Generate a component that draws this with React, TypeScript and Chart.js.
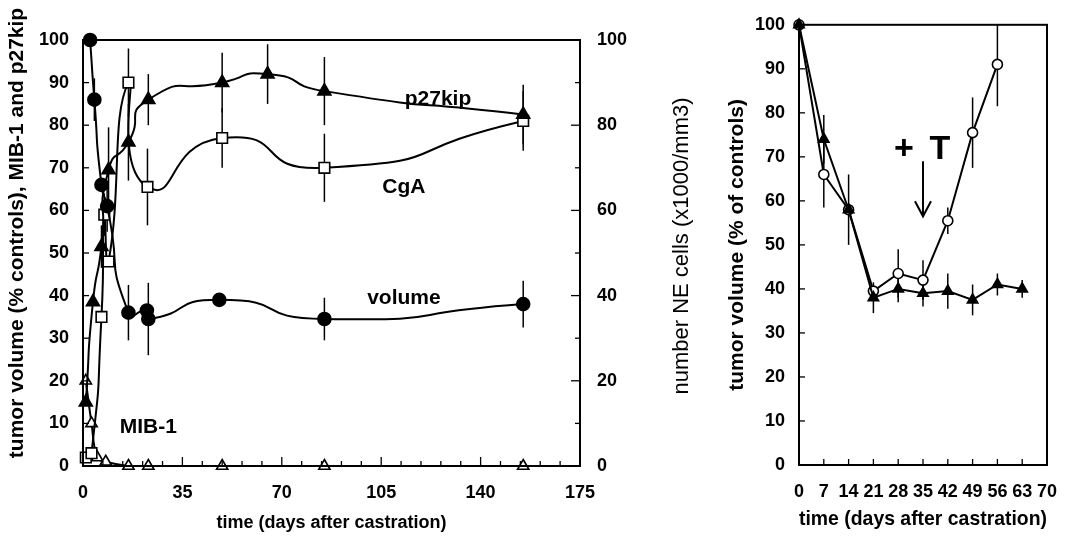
import React, { useEffect, useRef } from "react";
import { Chart, registerables } from "chart.js";

Chart.register(...registerables);

const FONT = "'Liberation Sans', Arial, Helvetica, sans-serif";

// ---------- Left panel data (days after castration) ----------
const volumeDays = [2.5, 4, 6.5, 8.5, 16, 22.5, 23, 48, 85, 155];
const volumeVals = [100, 86, 66, 61, 36, 36.5, 34.5, 39, 34.5, 38];
const volumeErr = [0, 5, 0, 6, 6.5, 0, 8.5, 0, 5, 5.5];

const p27Days = [1, 3.5, 6.5, 9, 16, 23, 49, 65, 85, 155];
const p27Vals = [15, 38.5, 51.5, 69.5, 76, 86, 90, 92, 88, 82.5];
const p27Err = [0, 0, 5, 10, 9, 6, 7, 7, 8, 7];

const cgaDays = [1, 3, 6.5, 7.5, 9, 16, 22.7, 49, 85, 155];
const cgaVals = [2, 3, 35, 59, 48, 90, 65.5, 77, 70, 81];
const cgaErr = [0, 0, 0, 5, 0, 8, 9, 7, 8, 7];

const mibDays = [1, 3, 5, 8, 16, 23, 49, 85, 155];
const mibVals = [20, 10, 2, 1, 0, 0, 0, 0, 0];

const leftXTicks = { min: 0, max: 175, step: 35, minorStep: 7 };
const leftYTicks = { min: 0, max: 100, step: 10 };
const leftY2Ticks = { min: 0, max: 100, step: 20, minorStep: 10 };

// ---------- Right panel data ----------
const castDays = [0, 7, 14, 21, 28, 35, 42, 49, 56, 63];
const castVals = [100, 74, 58, 38, 40, 39, 39.5, 37.5, 41, 40];
const castErr = [0, 5.5, 8, 3.5, 3, 3, 4, 3.5, 2.5, 2];

const tDays = [0, 7, 14, 21, 28, 35, 42, 49, 56];
const tVals = [100, 66, 58, 39.5, 43.5, 42, 55.5, 75.5, 91];
const tErr = [0, 7.5, 0, 0, 5.5, 4.5, 3, 8, 9.5];

const rightXTicks = { min: 0, max: 70, step: 7 };
const rightYTicks = { min: 0, max: 100, step: 10 };

const toPts = (xs: number[], ys: number[]) => xs.map((x, i) => ({ x, y: ys[i] }));

// ---------- plugins ----------
const errorBarPlugin = {
  id: "errorBars",
  beforeDatasetsDraw(chart: any) {
    const ctx = chart.ctx;
    ctx.save();
    ctx.strokeStyle = "#000";
    ctx.lineWidth = 1.5;
    chart.data.datasets.forEach((ds: any, i: number) => {
      const errs = ds.errors;
      if (!errs) return;
      const meta = chart.getDatasetMeta(i);
      const xs = chart.scales[meta.xAxisID];
      const ys = chart.scales[meta.yAxisID];
      ds.data.forEach((p: any, j: number) => {
        const e = errs[j];
        if (!e) return;
        const x = xs.getPixelForValue(p.x);
        const yTop = ys.getPixelForValue(Math.min(ys.max, p.y + e));
        const yBot = ys.getPixelForValue(Math.max(ys.min, p.y - e));
        ctx.beginPath();
        ctx.moveTo(x, yTop);
        ctx.lineTo(x, yBot);
        ctx.stroke();
      });
    });
    ctx.restore();
  },
};

function makeFramePlugin(tickSpec: (chart: any, ctx: CanvasRenderingContext2D) => void) {
  return {
    id: "frame",
    afterDraw(chart: any) {
      const { ctx, chartArea } = chart;
      ctx.save();
      ctx.strokeStyle = "#000";
      ctx.lineWidth = 2;
      ctx.strokeRect(chartArea.left, chartArea.top, chartArea.right - chartArea.left, chartArea.bottom - chartArea.top);
      ctx.lineWidth = 1.3;
      tickSpec(chart, ctx);
      ctx.restore();
    },
  };
}

function vTick(ctx: CanvasRenderingContext2D, x: number, y: number, len: number) {
  ctx.beginPath();
  ctx.moveTo(x, y);
  ctx.lineTo(x, y - len);
  ctx.stroke();
}
function hTick(ctx: CanvasRenderingContext2D, x: number, y: number, len: number) {
  ctx.beginPath();
  ctx.moveTo(x, y);
  ctx.lineTo(x + len, y);
  ctx.stroke();
}

type VTitle = { text: string; cx: number; cy: number; size: number; weight: string };

function makeTextPlugin(
  items: { text: string; x: number; y: number; size: number }[],
  vTitles: VTitle[],
  arrow?: { x: number; y1: number; y2: number; hw: number; hh: number }
) {
  return {
    id: "annot",
    afterDatasetsDraw(chart: any) {
      const { ctx } = chart;
      const xs = chart.scales.x;
      const ys = chart.scales.y;
      ctx.save();
      ctx.fillStyle = "#000";
      ctx.textAlign = "center";
      ctx.textBaseline = "middle";
      items.forEach((it) => {
        ctx.font = `bold ${it.size}px ${FONT}`;
        ctx.fillText(it.text, xs.getPixelForValue(it.x), ys.getPixelForValue(it.y));
      });
      if (arrow) {
        const x = xs.getPixelForValue(arrow.x);
        const y1 = ys.getPixelForValue(arrow.y1);
        const y2 = ys.getPixelForValue(arrow.y2);
        ctx.strokeStyle = "#000";
        ctx.lineWidth = 2;
        ctx.beginPath();
        ctx.moveTo(x, y1);
        ctx.lineTo(x, y2);
        ctx.moveTo(x - arrow.hw, y2 - arrow.hh);
        ctx.lineTo(x, y2);
        ctx.lineTo(x + arrow.hw, y2 - arrow.hh);
        ctx.stroke();
      }
      ctx.restore();
    },
    afterDraw(chart: any) {
      const { ctx } = chart;
      vTitles.forEach((t) => {
        ctx.save();
        ctx.fillStyle = "#000";
        ctx.textAlign = "center";
        ctx.textBaseline = "middle";
        ctx.font = `${t.weight} ${t.size}px ${FONT}`;
        ctx.translate(t.cx, t.cy);
        ctx.rotate(-Math.PI / 2);
        ctx.fillText(t.text, 0, 0);
        ctx.restore();
      });
    },
  };
}

const tickFont = { family: FONT, size: 18, weight: "bold" as const };

export default function App() {
  const leftRef = useRef<HTMLCanvasElement>(null);
  const rightRef = useRef<HTMLCanvasElement>(null);

  useEffect(() => {
    const lineBase = {
      borderColor: "#000",
      borderWidth: 2,
      pointBorderColor: "#000",
      pointBorderWidth: 1.6,
      clip: false as const,
    };
    const leftTension = 0.7;

    const left = new Chart(leftRef.current!, {
      type: "line",
      data: {
        datasets: [
          {
            ...lineBase,
            label: "volume",
            data: toPts(volumeDays, volumeVals),
            errors: volumeErr,
            tension: leftTension,
            pointStyle: "circle",
            pointRadius: 6.5,
            pointBackgroundColor: "#000",
          } as any,
          {
            ...lineBase,
            label: "p27kip",
            data: toPts(p27Days, p27Vals),
            errors: p27Err,
            tension: leftTension,
            pointStyle: "triangle",
            pointRadius: 7.5,
            pointBackgroundColor: "#000",
          } as any,
          {
            ...lineBase,
            label: "CgA",
            data: toPts(cgaDays, cgaVals),
            errors: cgaErr,
            tension: leftTension,
            pointStyle: "rect",
            pointRadius: 7.5,
            pointBackgroundColor: "#fff",
          } as any,
          {
            ...lineBase,
            label: "MIB-1",
            data: toPts(mibDays, mibVals),
            tension: 0.4,
            pointStyle: "triangle",
            pointRadius: 6.5,
            pointBackgroundColor: "#fff",
          } as any,
        ],
      },
      options: {
        animation: false,
        responsive: false,
        layout: { padding: { top: 40, left: 0, right: 0, bottom: 0 } },
        plugins: { legend: { display: false }, tooltip: { enabled: false } },
        scales: {
          x: {
            type: "linear",
            min: leftXTicks.min,
            max: leftXTicks.max,
            grid: { display: false, drawTicks: false },
            border: { display: false },
            ticks: { stepSize: leftXTicks.step, color: "#000", font: tickFont, padding: 16, maxRotation: 0 },
            title: {
              display: true,
              text: "time (days after castration)",
              color: "#000",
              font: { family: FONT, size: 18, weight: "bold", lineHeight: 1 },
              padding: { top: 0, bottom: 8 },
            },
            afterFit: (s: any) => {
              s.height = 74;
            },
          },
          y: {
            type: "linear",
            position: "left",
            min: leftYTicks.min,
            max: leftYTicks.max,
            grid: { display: false, drawTicks: false },
            border: { display: false },
            ticks: { stepSize: leftYTicks.step, color: "#000", font: tickFont, padding: 14 },
            afterFit: (s: any) => {
              s.width = 83;
            },
          },
          y2: {
            type: "linear",
            position: "right",
            min: leftY2Ticks.min,
            max: leftY2Ticks.max,
            grid: { display: false, drawTicks: false },
            border: { display: false },
            ticks: { stepSize: leftY2Ticks.step, color: "#000", font: tickFont, padding: 17 },
            afterFit: (s: any) => {
              s.width = 125;
            },
          },
        },
      } as any,
      plugins: [
        errorBarPlugin,
        makeFramePlugin((chart, ctx) => {
          const { x, y, y2 } = chart.scales;
          const ca = chart.chartArea;
          for (let v = leftXTicks.min; v <= leftXTicks.max; v += leftXTicks.minorStep) {
            vTick(ctx, x.getPixelForValue(v), ca.bottom, v % leftXTicks.step === 0 ? 9 : 5);
          }
          for (let v = leftYTicks.min; v <= leftYTicks.max; v += leftYTicks.step) {
            hTick(ctx, ca.left, y.getPixelForValue(v), 6);
          }
          for (let v = leftY2Ticks.min; v <= leftY2Ticks.max; v += leftY2Ticks.minorStep) {
            hTick(ctx, ca.right, y2.getPixelForValue(v), v % leftY2Ticks.step === 0 ? -9 : -5);
          }
        }),
        makeTextPlugin(
          [
            { text: "p27kip", x: 125, y: 86, size: 21 },
            { text: "CgA", x: 113, y: 65.5, size: 21 },
            { text: "volume", x: 113, y: 39.5, size: 21 },
            { text: "MIB-1", x: 23, y: 9, size: 21 },
          ],
          [
            { text: "tumor volume (% controls), MIB-1 and p27kip", cx: 17, cy: 233, size: 21, weight: "bold" },
            { text: "number NE cells (x1000/mm3)", cx: 682, cy: 246, size: 22, weight: "normal" },
          ]
        ),
      ],
    });

    const right = new Chart(rightRef.current!, {
      type: "line",
      data: {
        datasets: [
          {
            ...lineBase,
            label: "castrated",
            data: toPts(castDays, castVals),
            errors: castErr,
            tension: 0,
            pointStyle: "triangle",
            pointRadius: 6,
            pointBackgroundColor: "#000",
          } as any,
          {
            ...lineBase,
            label: "+T",
            data: toPts(tDays, tVals),
            errors: tErr,
            tension: 0,
            pointStyle: "circle",
            pointRadius: 5,
            pointBackgroundColor: "#fff",
          } as any,
        ],
      },
      options: {
        animation: false,
        responsive: false,
        layout: { padding: { top: 23, left: 0, right: 41, bottom: 0 } },
        plugins: { legend: { display: false }, tooltip: { enabled: false } },
        scales: {
          x: {
            type: "linear",
            min: rightXTicks.min,
            max: rightXTicks.max,
            grid: { display: false, drawTicks: false },
            border: { display: false },
            ticks: { stepSize: rightXTicks.step, color: "#000", font: tickFont, padding: 16, maxRotation: 0, autoSkip: false },
            title: {
              display: true,
              text: "time (days after castration)",
              color: "#000",
              font: { family: FONT, size: 21, weight: "bold", lineHeight: 1 },
              padding: { top: 0, bottom: 10 },
            },
            afterFit: (s: any) => {
              s.height = 75;
            },
          },
          y: {
            type: "linear",
            position: "left",
            min: rightYTicks.min,
            max: rightYTicks.max,
            grid: { display: false, drawTicks: false },
            border: { display: false },
            ticks: { stepSize: rightYTicks.step, color: "#000", font: tickFont, padding: 14 },
            title: {
              display: true,
              text: "tumor volume (% of controls)",
              color: "#000",
              font: { family: FONT, size: 21, weight: "bold", lineHeight: 1 },
              padding: { top: 22, bottom: 0 },
            },
            afterFit: (s: any) => {
              s.width = 94;
            },
          },
        },
      } as any,
      plugins: [
        errorBarPlugin,
        makeFramePlugin((chart, ctx) => {
          const { x, y } = chart.scales;
          const ca = chart.chartArea;
          for (let v = rightXTicks.min; v <= rightXTicks.max; v += rightXTicks.step) {
            vTick(ctx, x.getPixelForValue(v), ca.bottom, 6);
          }
          for (let v = rightYTicks.min; v <= rightYTicks.max; v += rightYTicks.step) {
            hTick(ctx, ca.left, y.getPixelForValue(v), 6);
          }
        }),
        makeTextPlugin(
          [
            { text: "+", x: 29.6, y: 71.7, size: 34 },
            { text: "T", x: 39.8, y: 71.7, size: 34 },
          ],
          [],
          { x: 35, y1: 69, y2: 56.5, hw: 8, hh: 15 }
        ),
      ],
    });

    return () => {
      left.destroy();
      right.destroy();
    };
  }, []);

  return (
    <div style={{ position: "absolute", left: 0, top: 0, width: 1088, height: 540, background: "#fff" }}>
      <canvas ref={leftRef} width={705} height={540} style={{ position: "absolute", left: 0, top: 0, width: 705, height: 540 }} />
      <canvas ref={rightRef} width={383} height={540} style={{ position: "absolute", left: 705, top: 0, width: 383, height: 540 }} />
    </div>
  );
}
